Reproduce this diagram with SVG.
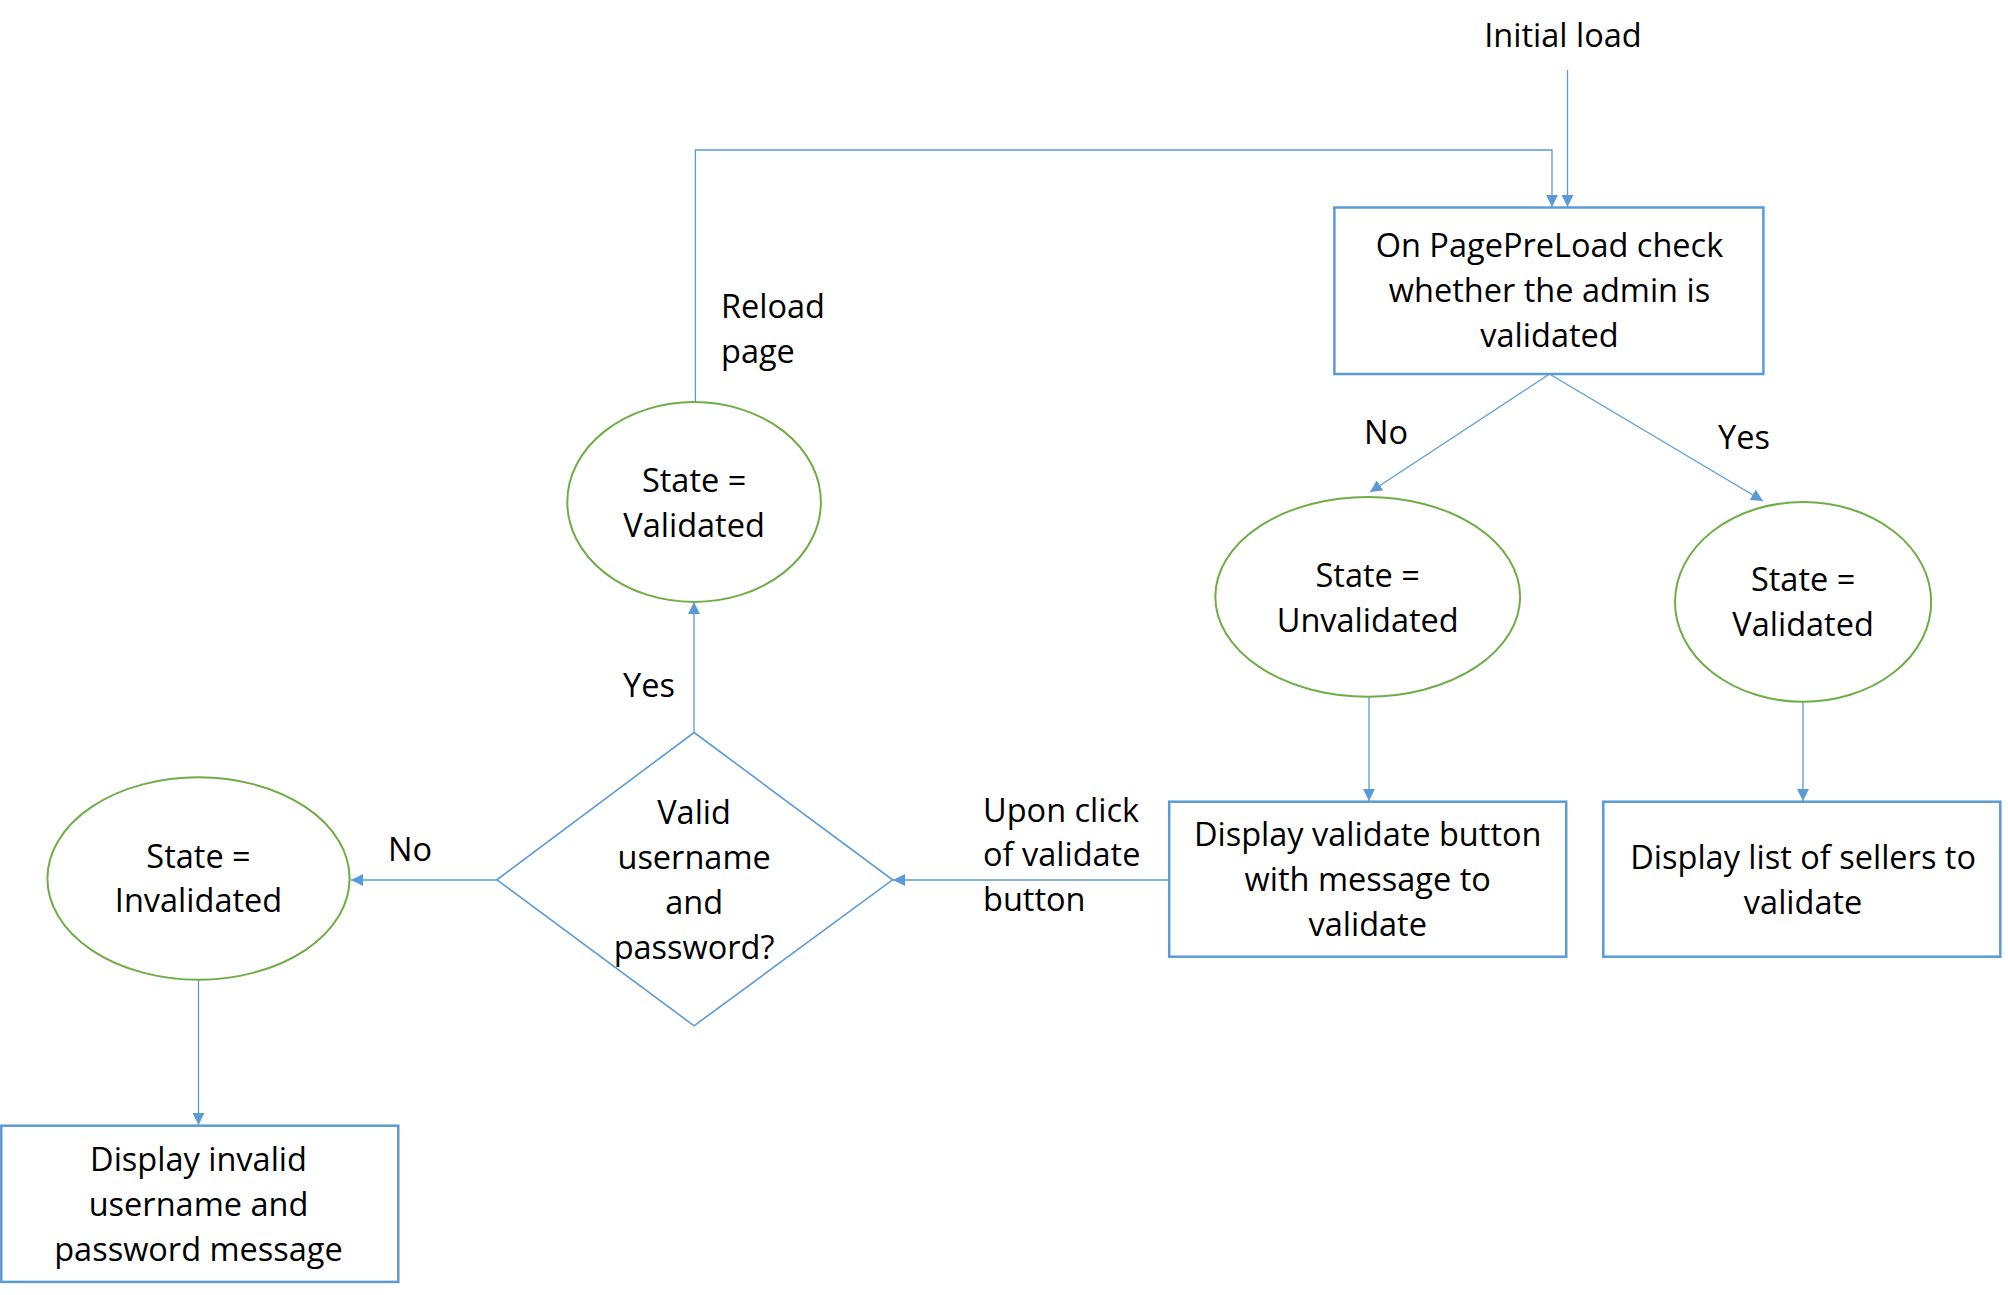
<svg xmlns="http://www.w3.org/2000/svg" width="2008" height="1295" viewBox="0 0 2008 1295">
<style>
text{font-family:"Open Sans","Noto Sans","Liberation Sans",sans-serif;font-size:32.5px;fill:#000}
.c{text-anchor:middle}
.box{fill:#fff;stroke:#5B9BD5;stroke-width:2.5}
.ell{fill:#fff;stroke:#70AD47;stroke-width:2}
.dia{fill:#fff;stroke:#5B9BD5;stroke-width:1.6}
.ln{fill:none;stroke:#5B9BD5;stroke-width:1.3}
</style>
<defs>
<marker id="ah" markerUnits="userSpaceOnUse" markerWidth="12" markerHeight="12" viewBox="0 0 10 10" refX="10" refY="5" orient="auto">
<path d="M0,0 L10,5 L0,10 z" fill="#5B9BD5"/>
</marker>
</defs>
<rect width="2008" height="1295" fill="#fff"/>
<g id="connectors">
<line class="ln" x1="1567.5" y1="70" x2="1567.5" y2="207" marker-end="url(#ah)"/>
<polyline class="ln" points="695.4,402 695.4,150 1552,150 1552,207" marker-end="url(#ah)"/>
<line class="ln" x1="1549.5" y1="374" x2="1370" y2="492" marker-end="url(#ah)"/>
<line class="ln" x1="1549.5" y1="374" x2="1763" y2="501" marker-end="url(#ah)"/>
<line class="ln" x1="1369" y1="697" x2="1369" y2="801" marker-end="url(#ah)"/>
<line class="ln" x1="1803" y1="702" x2="1803" y2="801" marker-end="url(#ah)"/>
<line class="ln" x1="1169" y1="880" x2="893" y2="880" marker-end="url(#ah)"/>
<line class="ln" x1="694" y1="732" x2="694" y2="602" marker-end="url(#ah)"/>
<line class="ln" x1="497" y1="880" x2="351" y2="880" marker-end="url(#ah)"/>
<line class="ln" x1="198.5" y1="980" x2="198.5" y2="1125" marker-end="url(#ah)"/>
</g>
<g id="labels">
<text class="c" x="1563" y="47">Initial load</text>
<text class="c" x="1386" y="444">No</text>
<text class="c" x="1744" y="449">Yes</text>
<text x="983" y="822">Upon click</text>
<text x="983" y="866">of validate</text>
<text x="983" y="911">button</text>
<text class="c" x="649" y="697">Yes</text>
<text x="721" y="318">Reload</text>
<text x="721" y="363">page</text>
<text class="c" x="410" y="861">No</text>
</g>
<g id="preload">
<rect class="box" x="1334.4" y="207.5" width="429" height="166.5"/>
<text class="c" x="1549.5" y="257">On PagePreLoad check</text>
<text class="c" x="1549.5" y="302">whether the admin is</text>
<text class="c" x="1549.5" y="347">validated</text>
</g>
<g id="unvalidated">
<ellipse class="ell" cx="1367.7" cy="596.8" rx="152.4" ry="99.9"/>
<text class="c" x="1367.7" y="587">State =</text>
<text class="c" x="1367.7" y="632">Unvalidated</text>
</g>
<g id="validated-right">
<ellipse class="ell" cx="1803.1" cy="601.9" rx="128.1" ry="99.9"/>
<text class="c" x="1803.1" y="591">State =</text>
<text class="c" x="1803.1" y="636">Validated</text>
</g>
<g id="validate-button">
<rect class="box" x="1169.2" y="801.7" width="397" height="155"/>
<text class="c" x="1367.7" y="846">Display validate button</text>
<text class="c" x="1367.7" y="891">with message to</text>
<text class="c" x="1367.7" y="936">validate</text>
</g>
<g id="sellers">
<rect class="box" x="1603.3" y="801.7" width="397" height="155"/>
<text class="c" x="1803.1" y="869">Display list of sellers to</text>
<text class="c" x="1803.1" y="914">validate</text>
</g>
<g id="decision">
<polygon class="dia" points="694.1,732.5 892.6,879.8 694.1,1025.8 496.9,879.8"/>
<text class="c" x="694.1" y="824">Valid</text>
<text class="c" x="694.1" y="869">username</text>
<text class="c" x="694.1" y="914">and</text>
<text class="c" x="694.1" y="959">password?</text>
</g>
<g id="validated-left">
<ellipse class="ell" cx="694.1" cy="502" rx="126.8" ry="99.9"/>
<text class="c" x="694.1" y="492">State =</text>
<text class="c" x="694.1" y="537">Validated</text>
</g>
<g id="invalidated">
<ellipse class="ell" cx="198.5" cy="878.5" rx="151.1" ry="101.2"/>
<text class="c" x="198.5" y="868">State =</text>
<text class="c" x="198.5" y="912">Invalidated</text>
</g>
<g id="invalid-message">
<rect class="box" x="1.3" y="1125.7" width="397" height="156.2"/>
<text class="c" x="198.5" y="1171">Display invalid</text>
<text class="c" x="198.5" y="1216">username and</text>
<text class="c" x="198.5" y="1261">password message</text>
</g>
</svg>
